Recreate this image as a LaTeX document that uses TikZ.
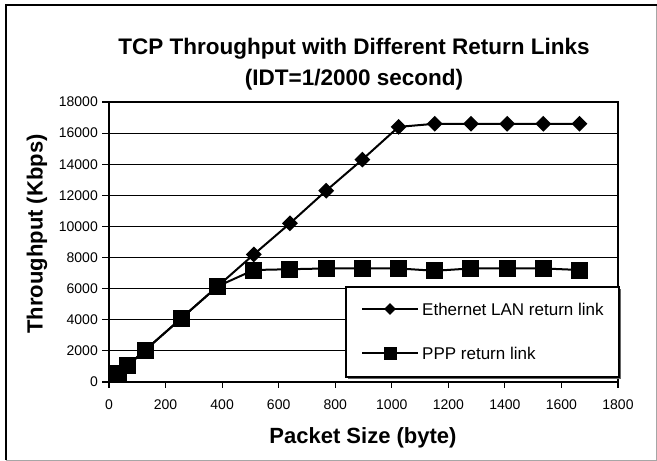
\documentclass[tikz,border=0pt]{standalone}
\usepackage{fontspec}
\setmainfont{Liberation Sans}
\usetikzlibrary{shapes.geometric}
\begin{document}
\begin{tikzpicture}[x=1pt,y=-1pt,
  ticklab/.style={font=\fontsize{14}{16}\selectfont, inner sep=0pt},
  axislab/.style={font=\bfseries\fontsize{22}{26}\selectfont, inner sep=0pt},
  titlelab/.style={font=\bfseries\fontsize{22.5}{27}\selectfont, inner sep=0pt, anchor=base},
  legtext/.style={font=\fontsize{17}{20}\selectfont, inner sep=0pt, anchor=west},
  gridline/.style={line width=1.1pt, black},
  axisline/.style={line width=2pt, black},
  dataline/.style={line width=2pt, black},
  dmark/.style={shape=diamond, fill=black, draw=none, inner sep=0pt, minimum width=16pt, minimum height=16pt},
  smark/.style={shape=rectangle, fill=black, draw=none, inner sep=0pt, minimum size=17pt},
  legdmark/.style={shape=diamond, fill=black, draw=none, inner sep=0pt, minimum width=12pt, minimum height=12pt},
  legsmark/.style={shape=rectangle, fill=black, draw=none, inner sep=0pt, minimum size=13pt}]
\useasboundingbox (0,0) rectangle (657,461);
\fill[white] (0,0) rectangle (657,461);
% outer frame
\draw[line width=1pt, gray!70] (6,460) -- (656.5,460) -- (656.5,5);
\draw[line width=2pt, black] (6,460) -- (6,5) -- (657,5);
% titles
\node[titlelab] (title1) at (354,54) {TCP Throughput with Different Return Links};
\node[titlelab] (title2) at (354,85) {(IDT=1/2000 second)};
% axis labels
\node[axislab, anchor=base] (xlab) at (363,443) {Packet Size (byte)};
\node[axislab, rotate=90] (ylab) at (37,234) {Throughput (Kbps)};
% data scope: x in hundreds of bytes, y in thousands of kbps
\begin{scope}[shift={(109,382)}, x=28.2778pt, y=15.5556pt]
  % gridlines
  \foreach \v in {2,4,...,16} {
    \draw[gridline] (0,\v) -- (18,\v);
  }
  % plot frame
  \draw[line width=1.6pt] (0,18) -- (18,18) -- (18,0);
  % y ticks and labels
  \foreach \v/\t in {0/0,2/2000,4/4000,6/6000,8/8000,10/10000,12/12000,14/14000,16/16000,18/18000} {
    \draw[line width=1.2pt] (0,\v) -- ++(-7pt,0);
    \node[ticklab, anchor=east] (yt\v) at ([xshift=-11pt]0,\v) {\t};
  }
  % x ticks and labels
  \foreach \u/\t in {0/0,2/200,4/400,6/600,8/800,10/1000,12/1200,14/1400,16/1600,18/1800} {
    \draw[line width=1.2pt] (\u,0) -- ++(0,-6pt);
    \node[ticklab] (xt\u) at ([yshift=-23pt]\u,0) {\t};
  }
  % axes
  \draw[axisline] (0,18) -- (0,0) -- (18,0);
  % data coordinates
  \foreach \i/\px/\ev/\pv in {1/0.32/0.58/0.56, 2/0.64/1.03/1.03, 3/1.28/2.05/2.05, 4/2.56/4.1/4.1,
      5/3.84/6.15/6.15, 6/5.12/8.2/7.2, 7/6.4/10.2/7.25, 8/7.68/12.3/7.3,
      9/8.96/14.3/7.3, 10/10.24/16.4/7.3, 11/11.52/16.6/7.15, 12/12.8/16.6/7.3,
      13/14.08/16.6/7.3, 14/15.36/16.6/7.3, 15/16.64/16.6/7.2} {
    \coordinate (e\i) at (\px,\ev);
    \coordinate (p\i) at (\px,\pv);
  }
  \draw[dataline] (e1) -- (e2) -- (e3) -- (e4) -- (e5) -- (e6) -- (e7) -- (e8)
     -- (e9) -- (e10) -- (e11) -- (e12) -- (e13) -- (e14) -- (e15);
  \draw[dataline] (p1) -- (p2) -- (p3) -- (p4) -- (p5) -- (p6) -- (p7) -- (p8)
     -- (p9) -- (p10) -- (p11) -- (p12) -- (p13) -- (p14) -- (p15);
  \foreach \i in {1,...,15} { \node[dmark] (ed\i) at (e\i) {}; }
  \foreach \i in {1,...,15} { \node[smark] (ps\i) at (p\i) {}; }
\end{scope}
% legend
\fill[black!60] (348,289) rectangle (621,379);
\node[draw=black, line width=1.1pt, fill=white, minimum width=273pt, minimum height=90pt, inner sep=0pt] (legend) at (482.5,332) {};
\coordinate (l1a) at (362,309);
\coordinate (l1b) at (418,309);
\coordinate (l2a) at (362,353);
\coordinate (l2b) at (418,353);
\draw[dataline] (l1a) -- (l1b);
\draw[dataline] (l2a) -- (l2b);
\node[legdmark] (ld) at (390,309) {};
\node[legsmark] (ls) at (390,353) {};
\node[legtext] (lt1) at (422,309) {Ethernet LAN return link};
\node[legtext] (lt2) at (422,353) {PPP return link};
\end{tikzpicture}
\end{document}
